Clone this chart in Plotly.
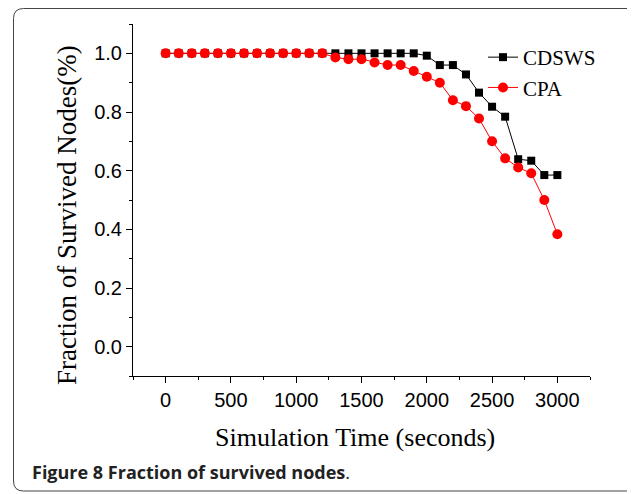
import plotly.graph_objects as go

# ---- data ----
time_s = [0, 100, 200, 300, 400, 500, 600, 700, 800, 900, 1000,
          1100, 1200, 1300, 1400, 1500, 1600, 1700, 1800, 1900, 2000,
          2100, 2200, 2300, 2400, 2500, 2600, 2700, 2800, 2900, 3000]
cdsws = [1.0, 1.0, 1.0, 1.0, 1.0, 1.0, 1.0, 1.0, 1.0, 1.0, 1.0,
         1.0, 1.0, 1.0, 1.0, 1.0, 1.0, 1.0, 1.0, 1.0, 0.992,
         0.96, 0.96, 0.928, 0.866, 0.818, 0.784, 0.639, 0.634, 0.585, 0.585]
cpa = [1.0, 1.0, 1.0, 1.0, 1.0, 1.0, 1.0, 1.0, 1.0, 1.0, 1.0,
       1.0, 1.0, 0.986, 0.98, 0.98, 0.969, 0.96, 0.96, 0.94, 0.92,
       0.90, 0.84, 0.82, 0.778, 0.70, 0.642, 0.611, 0.591, 0.50, 0.383]
x_ticks = [0, 500, 1000, 1500, 2000, 2500, 3000]
y_ticks = [0.0, 0.2, 0.4, 0.6, 0.8, 1.0]
y_tick_labels = ["0.0", "0.2", "0.4", "0.6", "0.8", "1.0"]

# page has an 8px body margin; work in page pixels and convert
OFF = 8
W, H = 635 - OFF, 494 - OFF
L, R, T, B = 133 - OFF, 45, 24 - OFF, 118
PW, PH = W - L - R, H - T - B


def px(x):  # page px -> paper x
    return (x - OFF - L) / PW


def py(y):  # page px -> paper y
    return (H - B - (y - OFF)) / PH


SERIF = "Liberation Serif"
SANS = "Liberation Sans"

fig = go.Figure()
fig.add_trace(go.Scatter(
    x=time_s, y=cdsws, name="CDSWS", mode="lines+markers",
    line=dict(color="black", width=1),
    marker=dict(symbol="square", size=8, color="black"),
))
fig.add_trace(go.Scatter(
    x=time_s, y=cpa, name="CPA", mode="lines+markers",
    line=dict(color="#ff0000", width=1),
    marker=dict(symbol="circle", size=10, color="#ff0000"),
))

axis_common = dict(
    showgrid=False, zeroline=False, showline=True, linecolor="black",
    linewidth=1, ticks="outside", ticklen=6, tickwidth=1, tickcolor="black",
    tickfont=dict(family=SANS, size=20, color="black"),
)
fig.update_xaxes(
    range=[-250, 3250], tickvals=x_ticks,
    minor=dict(dtick=250, tick0=0, ticks="outside", ticklen=3,
               tickcolor="black", showgrid=False),
    **axis_common,
)
fig.update_yaxes(
    range=[-0.1, 1.1], tickvals=y_ticks, ticktext=y_tick_labels,
    minor=dict(dtick=0.1, tick0=0, ticks="outside", ticklen=3,
               tickcolor="black", showgrid=False),
    **axis_common,
)

# rounded frame around figure (page pixel coordinates)
fl, ft, fr, fb, rad = 13.5, 8.5, 637, 491, 10
frame_path = (
    f"M {px(fl + rad)},{py(ft)} L {px(fr - rad)},{py(ft)} "
    f"Q {px(fr)},{py(ft)} {px(fr)},{py(ft + rad)} "
    f"L {px(fr)},{py(fb - rad)} Q {px(fr)},{py(fb)} {px(fr - rad)},{py(fb)} "
    f"L {px(fl + rad)},{py(fb)} Q {px(fl)},{py(fb)} {px(fl)},{py(fb - rad)} "
    f"L {px(fl)},{py(ft + rad)} Q {px(fl)},{py(ft)} {px(fl + rad)},{py(ft)} Z"
)
fig.add_shape(type="path", path=frame_path, xref="paper", yref="paper",
              line=dict(color="#444444", width=1), layer="below")

fig.add_annotation(
    text="Simulation Time (seconds)", xref="paper", yref="paper",
    x=px(355), y=py(437), xanchor="center", yanchor="middle", showarrow=False,
    font=dict(family=SERIF, size=26, color="black"),
)
fig.add_annotation(
    text="Fraction of Survived Nodes(%)", xref="paper", yref="paper",
    x=px(67), y=py(215), xanchor="center", yanchor="middle", showarrow=False,
    textangle=-90, font=dict(family=SERIF, size=27, color="black"),
)
fig.add_annotation(
    text="<b>Figure 8 Fraction of survived nodes</b>.", xref="paper", yref="paper",
    x=px(30), y=py(472), xanchor="left", yanchor="middle", showarrow=False,
    font=dict(family="Open Sans", size=18, color="#222222"),
)

fig.update_layout(
    width=W, height=H, autosize=False,
    margin=dict(l=L, r=R, t=T, b=B, pad=0),
    paper_bgcolor="white", plot_bgcolor="white",
    showlegend=True,
    legend=dict(
        x=px(483), y=py(37), xanchor="left", yanchor="top",
        bgcolor="rgba(0,0,0,0)", borderwidth=0,
        font=dict(family=SERIF, size=21, color="black"),
        tracegroupgap=0,
    ),
)

fig.write_html("out.html")
